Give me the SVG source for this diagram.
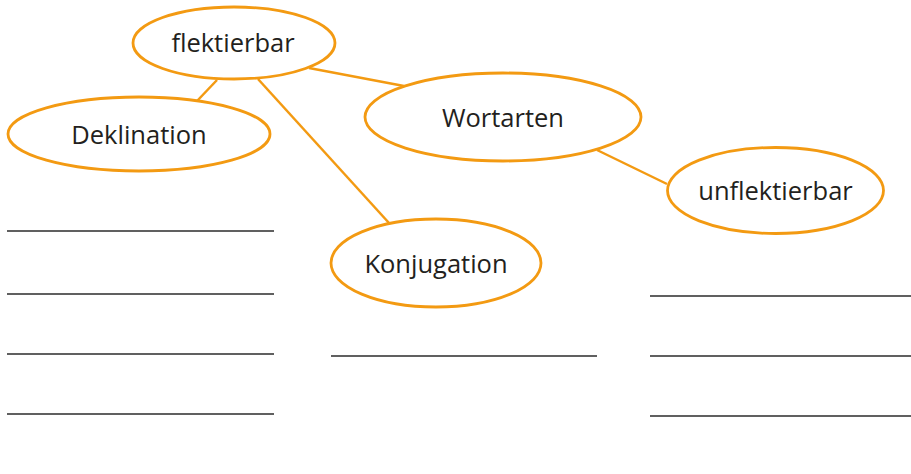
<svg xmlns="http://www.w3.org/2000/svg" width="911" height="474" viewBox="0 0 911 474">
<style>
.node ellipse{fill:#fff;stroke:#F39A12;stroke-width:2.8}
.node text{font-family:"Open Sans","Noto Sans","Liberation Sans",sans-serif;font-size:25.5px;fill:#231F20;text-anchor:middle;dominant-baseline:central}
.conn line{stroke:#F39A12;stroke-width:2.5}
.rule line{stroke:#2b2b2b;stroke-width:1.4}
</style>
<rect width="911" height="474" fill="#fff"/>
<g class="conn">
<line x1="217" y1="80" x2="197" y2="101"/>
<line x1="258" y1="79" x2="389" y2="223"/>
<line x1="309" y1="68" x2="404" y2="86"/>
<line x1="597" y1="150" x2="667" y2="184"/>
</g>
<g class="rule">
<line x1="7" y1="231" x2="274" y2="231"/>
<line x1="7" y1="294" x2="274" y2="294"/>
<line x1="7" y1="354" x2="274" y2="354"/>
<line x1="7" y1="414" x2="274" y2="414"/>
<line x1="331" y1="356" x2="597" y2="356"/>
<line x1="650" y1="296" x2="911" y2="296"/>
<line x1="650" y1="356" x2="911" y2="356"/>
<line x1="650" y1="416" x2="911" y2="416"/>
</g>
<g id="flektierbar" class="node"><ellipse cx="234" cy="43" rx="101" ry="36"/><text x="233" y="42">flektierbar</text></g>
<g id="deklination" class="node"><ellipse cx="139" cy="134" rx="131" ry="37"/><text x="139" y="134">Deklination</text></g>
<g id="wortarten" class="node"><ellipse cx="503" cy="117" rx="138" ry="44"/><text x="503" y="117">Wortarten</text></g>
<g id="unflektierbar" class="node"><ellipse cx="775.5" cy="190.5" rx="108" ry="43"/><text x="775.5" y="190">unflektierbar</text></g>
<g id="konjugation" class="node"><ellipse cx="436" cy="263" rx="105" ry="44"/><text x="436" y="263">Konjugation</text></g>
</svg>
